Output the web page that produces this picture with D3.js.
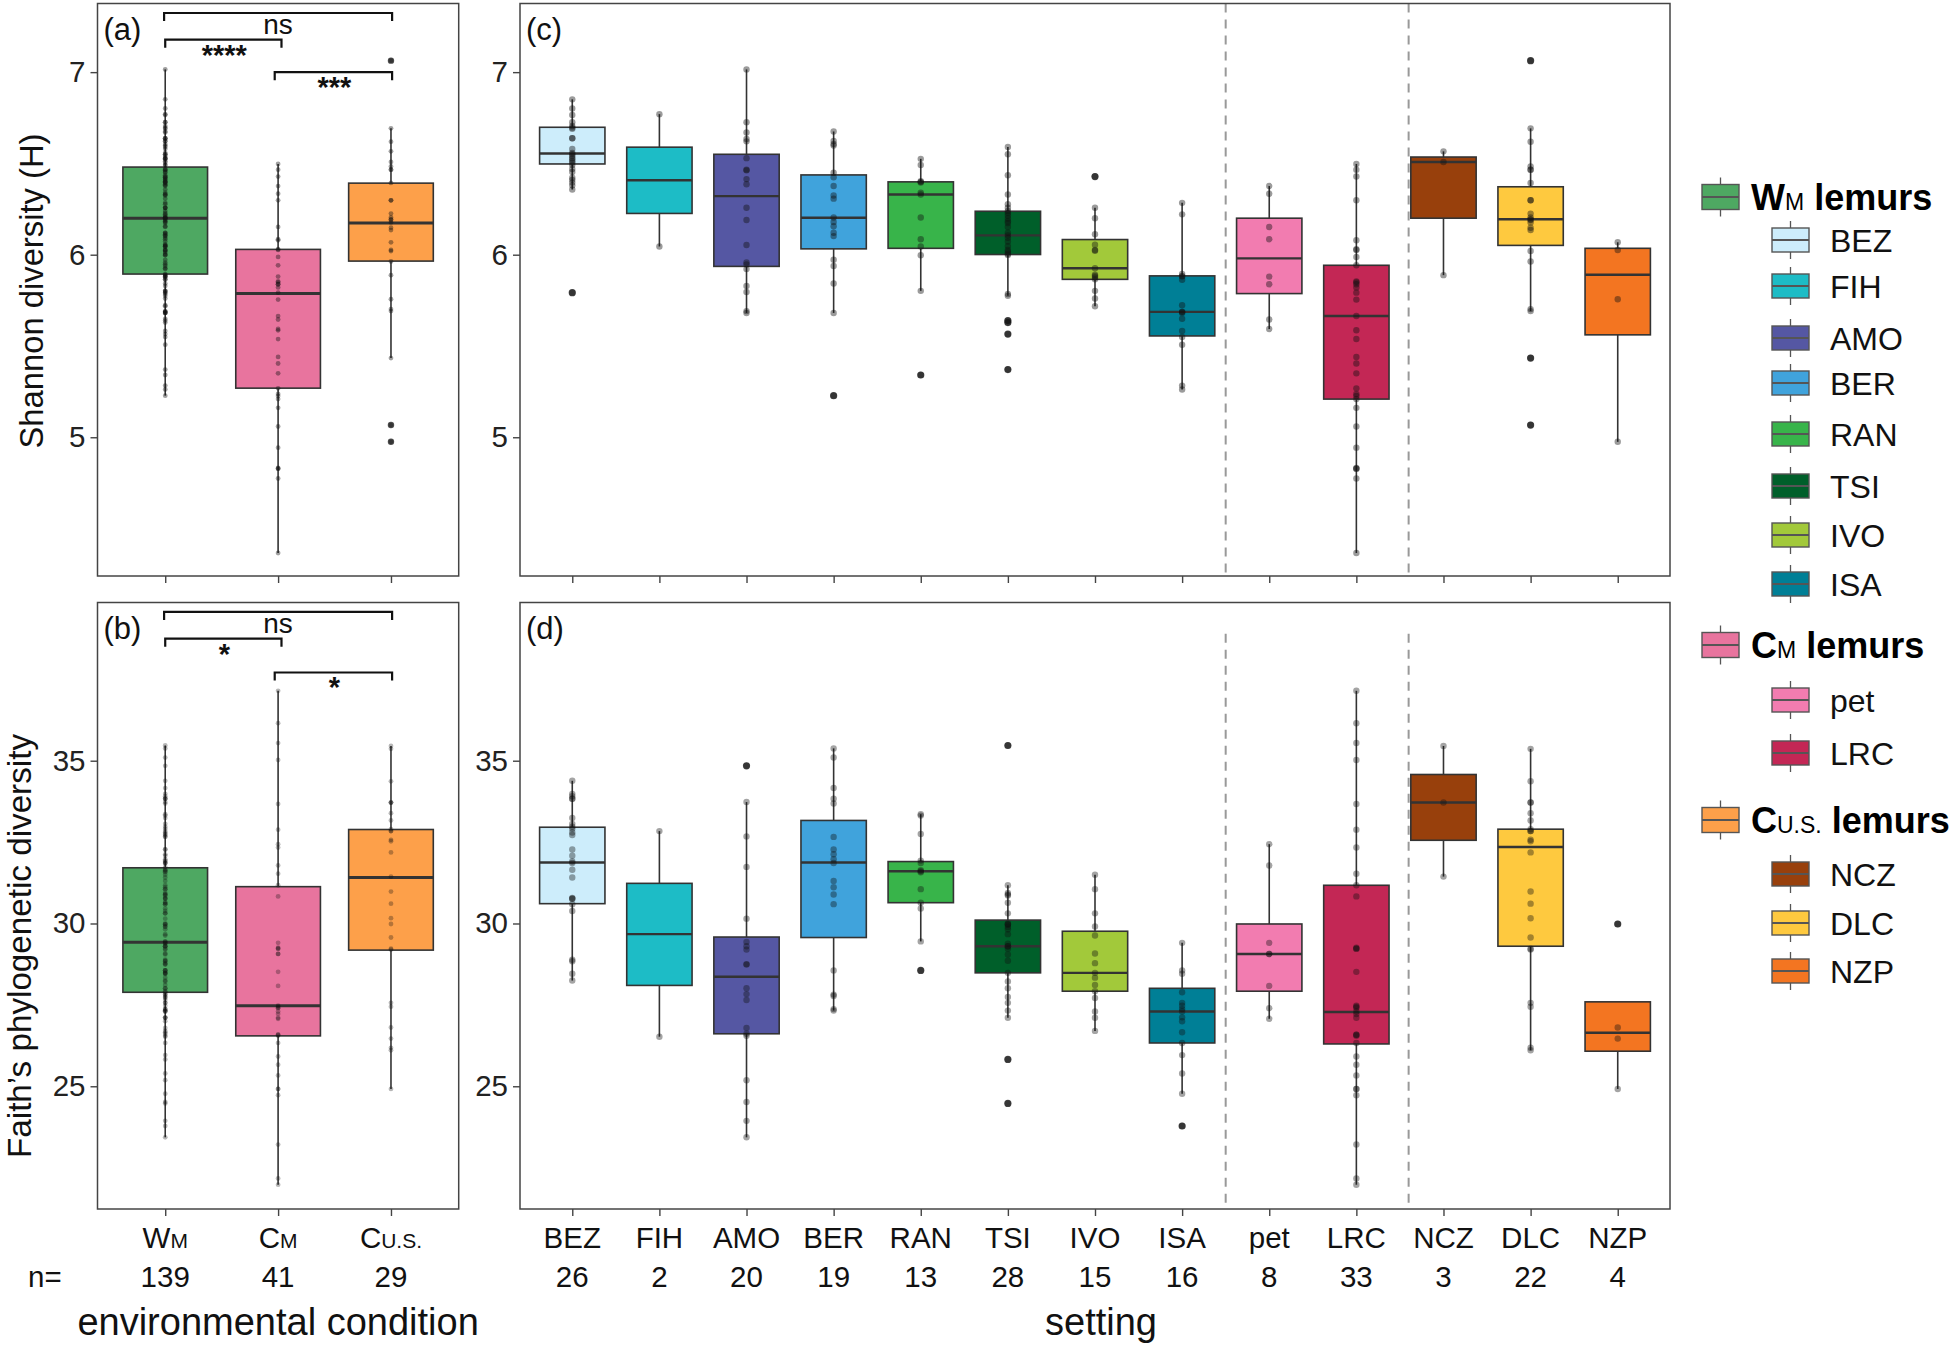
<!DOCTYPE html>
<html><head><meta charset="utf-8">
<script src="https://cdn.jsdelivr.net/npm/d3@7"></script>
<style>body{margin:0;background:#fff}</style></head>
<body><svg id="chart" width="1960" height="1347"></svg>
<script>
// ---------------- DATA ----------------
const conditionMain = ["W", "C", "C"];
const conditionSub = ["M", "M", "U.S."];
const conditionN = [139, 41, 29];
const conditionColors = ["#4ea862", "#e8749e", "#fda04a"];

const settings = ["BEZ","FIH","AMO","BER","RAN","TSI","IVO","ISA","pet","LRC","NCZ","DLC","NZP"];
const settingN = [26,2,20,19,13,28,15,16,8,33,3,22,4];
const settingGroup = [0,0,0,0,0,0,0,0,1,1,2,2,2];
const settingColors = ["#cdedfb","#1dbcc6","#5557a3","#40a3dc","#38b44a","#005f2a","#a2c93a","#007f96","#f27cb0","#c32755","#98400c","#fec93f","#f37521"];

// box statistics (q1, median, q3)
const shannonCondQ1 = [5.894, 5.269, 5.965];
const shannonCondMed = [6.200, 5.787, 6.173];
const shannonCondQ3 = [6.480, 6.029, 6.392];
const faithCondQ1 = [27.887, 26.548, 29.182];
const faithCondMed = [29.420, 27.470, 31.414];
const faithCondQ3 = [31.711, 31.131, 32.887];

const shannonQ1 = [6.497,6.226,5.936,6.032,6.035,6.001,5.865,5.555,5.787,5.209,6.200,6.051,5.561];
const shannonMed = [6.554,6.408,6.321,6.202,6.330,6.106,5.926,5.687,5.980,5.664,6.508,6.194,5.890];
const shannonQ3 = [6.698,6.589,6.550,6.437,6.399,6.238,6.083,5.884,6.200,5.942,6.535,6.372,6.035];
const faithQ1 = [30.609,28.098,26.612,29.569,30.639,28.484,27.920,26.330,27.920,26.300,32.556,29.302,26.077];
const faithMed = [31.872,29.673,28.366,31.872,31.605,29.302,28.484,27.296,29.064,27.281,33.715,32.348,26.642];
const faithQ3 = [32.957,31.233,29.584,33.165,31.902,30.104,29.762,28.009,29.985,31.174,34.577,32.897,27.593];

// per-sample values, one list per setting
const shannonPoints = [
  [6.851,6.801,6.765,6.726,6.705,6.696,6.690,6.638,6.638,6.579,6.558,6.550,6.541,6.530,6.523,6.512,6.504,6.491,6.470,6.453,6.422,6.410,6.395,6.380,6.357,5.792],
  [6.770,6.045],
  [7.015,6.726,6.669,6.634,6.621,6.529,6.466,6.462,6.414,6.386,6.257,6.190,6.053,5.957,5.947,5.921,5.829,5.796,5.691,5.681],
  [6.675,6.623,6.606,6.598,6.449,6.424,6.376,6.324,6.307,6.204,6.179,6.156,6.120,6.102,5.972,5.938,5.842,5.681,5.228],
  [6.525,6.491,6.403,6.399,6.395,6.340,6.330,6.204,6.085,6.045,5.997,5.802,5.341],
  [6.590,6.550,6.435,6.330,6.277,6.257,6.240,6.229,6.215,6.198,6.183,6.173,6.152,6.120,6.106,6.093,6.072,6.047,6.026,6.016,6.005,5.999,5.785,5.775,5.639,5.628,5.565,5.371],
  [6.428,6.257,6.200,6.112,6.055,6.026,6.022,5.926,5.890,5.884,5.875,5.865,5.802,5.760,5.718],
  [6.284,6.221,5.894,5.884,5.880,5.863,5.723,5.687,5.687,5.681,5.649,5.582,5.549,5.507,5.283,5.262],
  [6.376,6.334,6.152,6.085,5.880,5.838,5.645,5.593],
  [6.497,6.466,6.428,6.298,6.079,6.030,6.026,5.988,5.942,5.854,5.848,5.838,5.821,5.792,5.754,5.664,5.586,5.538,5.440,5.404,5.350,5.268,5.237,5.226,5.209,5.161,5.059,4.943,4.832,4.828,4.828,4.774,4.366],
  [6.566,6.508,5.888],
  [7.063,6.692,6.619,6.483,6.466,6.466,6.393,6.298,6.298,6.225,6.204,6.194,6.190,6.177,6.148,6.135,6.020,5.963,5.702,5.691,5.434,5.067],
  [6.068,6.026,5.756,4.975]
];
const faithPoints = [
  [34.383,33.982,33.908,33.834,33.834,33.239,33.061,32.972,32.912,32.793,32.719,32.273,32.080,31.902,31.857,31.649,31.412,30.788,30.758,30.758,30.594,30.386,28.886,28.841,28.455,28.247],
  [32.838,26.523],
  [34.844,33.730,32.675,31.738,30.149,29.435,29.302,29.198,28.752,28.737,28.009,27.831,27.652,26.790,26.612,26.553,25.186,24.517,23.938,23.432],
  [35.379,35.097,34.160,33.834,33.685,32.660,32.273,32.125,31.976,31.857,31.308,31.114,30.892,30.594,28.559,27.816,27.771,27.370,27.325],
  [33.358,33.314,32.749,31.932,31.857,31.634,31.605,31.575,31.055,30.639,30.461,29.450,28.559],
  [35.468,31.174,30.936,30.892,30.862,30.639,30.312,30.000,29.970,29.970,29.896,29.822,29.673,29.376,29.302,29.302,29.227,29.049,28.856,28.484,28.217,28.009,27.741,27.563,27.325,27.103,25.825,24.473],
  [31.501,31.055,30.312,29.911,29.629,29.079,28.782,28.484,28.336,28.113,27.920,27.712,27.296,27.103,26.701],
  [29.406,28.559,28.455,27.890,27.563,27.474,27.370,27.296,27.117,26.999,26.657,26.330,25.958,25.394,24.770,23.780],
  [32.437,31.783,29.406,29.064,29.064,28.083,27.400,27.073],
  [37.147,36.152,35.542,35.022,33.670,32.883,32.333,31.530,31.174,30.832,29.257,29.227,29.227,28.514,27.474,27.444,27.415,27.296,27.221,27.103,26.583,26.583,26.553,26.330,25.914,25.661,25.334,24.918,24.918,24.725,23.210,22.169,21.976],
  [35.453,33.715,31.441],
  [35.364,34.368,33.715,33.715,33.388,33.165,32.897,32.838,32.838,32.571,32.526,32.184,30.981,30.609,30.163,29.569,29.227,29.198,27.563,27.444,26.181,26.107],
  [29.985,26.805,26.464,24.918]
];

const shannonTicks = [5, 6, 7];
const faithTicks = [25, 30, 35];
const shannonDomain = [4.24, 7.376];
const faithDomain = [21.23, 39.86];

// significance comparisons (condition index pairs), labels and bracket heights
const compPairs = [[0, 2], [0, 1], [1, 2]];
const shannonSigLabels = ["ns", "****", "***"];
const shannonSigY = [7.324, 7.178, 7.0];
const faithSigLabels = ["ns", "*", "*"];
const faithSigY = [39.57, 38.75, 37.71];

const dividerPos = [8.5, 10.6];   // between setting groups (1-based category units)
const groupTitles = [["W", "M"], ["C", "M"], ["C", "U.S."]];

// ---------------- LAYOUT ----------------
const FONT = "'Liberation Sans', Arial, Helvetica, sans-serif";
const P = {
  a: {x0: 97.5, x1: 458.7, y0: 3.5, y1: 576},
  b: {x0: 97.5, x1: 458.7, y0: 602.5, y1: 1209},
  c: {x0: 520, x1: 1670, y0: 3.5, y1: 576},
  d: {x0: 520, x1: 1670, y0: 602.5, y1: 1209}
};
const svg = d3.select("#chart").style("font-family", FONT);
svg.append("rect").attr("width", 1960).attr("height", 1347).attr("fill", "#fff");

// condition-level points are the union of their settings
const condShannonPts = [0,1,2].map(g => settingGroup.flatMap((sg, i) => sg === g ? shannonPoints[i] : []));
const condFaithPts = [0,1,2].map(g => settingGroup.flatMap((sg, i) => sg === g ? faithPoints[i] : []));

function tukey(pts, q1, q3) {
  const iqr = q3 - q1, lo = q1 - 1.5 * iqr, hi = q3 + 1.5 * iqr;
  const inside = pts.filter(v => v >= lo && v <= hi);
  return {wlo: Math.min(d3.min(inside), q1), whi: Math.max(d3.max(inside), q3),
          out: pts.filter(v => v < lo || v > hi)};
}

function panel(p, cats, colors, q1, med, q3, pts, domain, ticks, o) {
  const x = d3.scalePoint().domain(cats).range([p.x0, p.x1]).padding(0.6);
  const y = d3.scaleLinear().domain(domain).range([p.y1, p.y0]);
  const step = x.step(), bw = step * 0.75;
  const g = svg.append("g");

  // y axis
  const ya = g.append("g").attr("transform", `translate(${p.x0},0)`)
    .call(d3.axisLeft(y).tickValues(ticks).tickSize(7).tickPadding(5).tickFormat(d3.format("d")));
  ya.select(".domain").remove();
  ya.selectAll("line").attr("stroke", "#444").attr("stroke-width", 1.4);
  ya.selectAll("text").attr("font-size", "29.5px").attr("fill", "#222").attr("font-family", FONT);
  // x axis ticks
  const xa = g.append("g").attr("transform", `translate(0,${p.y1})`)
    .call(d3.axisBottom(x).tickSize(7).tickFormat(""));
  xa.select(".domain").remove();
  xa.selectAll("line").attr("stroke", "#444").attr("stroke-width", 1.4);

  // dividers
  if (o.dividers) {
    o.dividers.forEach(v => {
      const xp = x(cats[0]) + (v - 1) * step;
      g.append("line").attr("x1", xp).attr("x2", xp)
        .attr("y1", o.dividerTop != null ? y(o.dividerTop) : p.y0).attr("y2", p.y1)
        .attr("stroke", "#999").attr("stroke-width", 2).attr("stroke-dasharray", "9,7");
    });
  }

  cats.forEach((c, i) => {
    const cx = x(c);
    const s = tukey(pts[i], q1[i], q3[i]);
    g.append("line").attr("x1", cx).attr("x2", cx).attr("y1", y(q3[i])).attr("y2", y(s.whi))
      .attr("stroke", "#333").attr("stroke-width", 1.6);
    g.append("line").attr("x1", cx).attr("x2", cx).attr("y1", y(q1[i])).attr("y2", y(s.wlo))
      .attr("stroke", "#333").attr("stroke-width", 1.6);
    g.append("rect").attr("x", cx - bw / 2).attr("width", bw)
      .attr("y", y(q3[i])).attr("height", y(q1[i]) - y(q3[i]))
      .attr("fill", colors[i]).attr("stroke", "#333").attr("stroke-width", 1.6);
    g.append("line").attr("x1", cx - bw / 2).attr("x2", cx + bw / 2)
      .attr("y1", y(med[i])).attr("y2", y(med[i]))
      .attr("stroke", "#333").attr("stroke-width", o.medW);
    g.selectAll(null).data(s.out).join("circle")
      .attr("cx", cx).attr("cy", d => y(d)).attr("r", o.outR)
      .attr("fill", "#222").attr("fill-opacity", 0.8);
    g.selectAll(null).data(pts[i]).join("circle")
      .attr("cx", cx).attr("cy", d => y(d)).attr("r", o.ptR)
      .attr("fill", "#111").attr("fill-opacity", o.ptA);
  });

  // border
  g.append("rect").attr("x", p.x0).attr("y", p.y0).attr("width", p.x1 - p.x0).attr("height", p.y1 - p.y0)
    .attr("fill", "none").attr("stroke", "#444").attr("stroke-width", 1.5);

  // panel letter
  g.append("text").attr("x", p.x0 + 6).attr("y", p.y0 + 36).attr("font-size", "31px").attr("fill", "#111")
    .text(o.letter);

  // significance brackets
  if (o.sig) {
    o.sig.labels.forEach((lab, k) => {
      const [a, b] = compPairs[k];
      const off = [[-0.01, 0.01], [0, 0.03], [-0.03, 0.01]][k];
      const xa1 = x(cats[a]) + off[0] * step, xb1 = x(cats[b]) + off[1] * step;
      const yl = y(o.sig.ys[k]);
      g.append("path").attr("d", `M${xa1},${yl + 8}V${yl}H${xb1}V${yl + 8}`)
        .attr("fill", "none").attr("stroke", "#111").attr("stroke-width", 2.2);
      const isStar = lab.indexOf("*") >= 0;
      g.append("text").attr("x", (xa1 + xb1) / 2 + (isStar ? 1 : 0))
        .attr("y", isStar ? yl + 25 : yl + 21)
        .attr("text-anchor", "middle").attr("font-size", isStar ? "29px" : "28px")
        .attr("font-weight", isStar ? "bold" : "normal").attr("fill", "#111").text(lab);
    });
  }
  return {x, y};
}

const A = panel(P.a, ["WM","CM","CUS"], conditionColors, shannonCondQ1, shannonCondMed, shannonCondQ3,
  condShannonPts, shannonDomain, shannonTicks,
  {medW: 3, ptR: 2.4, ptA: 0.4, outR: 3.2, letter: "(a)", sig: {labels: shannonSigLabels, ys: shannonSigY}});
const B = panel(P.b, ["WM","CM","CUS"], conditionColors, faithCondQ1, faithCondMed, faithCondQ3,
  condFaithPts, faithDomain, faithTicks,
  {medW: 3, ptR: 2.4, ptA: 0.3, outR: 3.2, letter: "(b)", sig: {labels: faithSigLabels, ys: faithSigY}});
const C = panel(P.c, settings, settingColors, shannonQ1, shannonMed, shannonQ3,
  shannonPoints, shannonDomain, shannonTicks,
  {medW: 2.4, ptR: 3.2, ptA: 0.42, outR: 3.6, letter: "(c)", dividers: dividerPos});
const D = panel(P.d, settings, settingColors, faithQ1, faithMed, faithQ3,
  faithPoints, faithDomain, faithTicks,
  {medW: 2.4, ptR: 3.2, ptA: 0.38, outR: 3.6, letter: "(d)", dividers: dividerPos, dividerTop: 38.9});

// ---------------- X LABELS ----------------
const row1 = 1248, row2 = 1286.5, titleY = 1335;
["WM","CM","CUS"].forEach((c, i) => {
  const t = svg.append("text").attr("x", B.x(c)).attr("y", row1).attr("text-anchor", "middle")
    .attr("font-size", "29.5px").attr("fill", "#111");
  t.append("tspan").text(conditionMain[i]);
  t.append("tspan").attr("font-size", "21px").text(conditionSub[i]);
  svg.append("text").attr("x", B.x(c)).attr("y", row2).attr("text-anchor", "middle")
    .attr("font-size", "29.5px").attr("fill", "#111").text(conditionN[i]);
});
svg.append("text").attr("x", 28).attr("y", row2).attr("font-size", "29.5px").attr("fill", "#111").text("n=");
settings.forEach((s, i) => {
  svg.append("text").attr("x", D.x(s)).attr("y", row1).attr("text-anchor", "middle")
    .attr("font-size", "29.5px").attr("fill", "#111").text(s);
  svg.append("text").attr("x", D.x(s)).attr("y", row2).attr("text-anchor", "middle")
    .attr("font-size", "29.5px").attr("fill", "#111").text(settingN[i]);
});
svg.append("text").attr("x", (P.b.x0 + P.b.x1) / 2).attr("y", titleY).attr("text-anchor", "middle")
  .attr("font-size", "38px").attr("fill", "#111").text("environmental condition");
svg.append("text").attr("x", (P.d.x0 + P.d.x1) / 2 + 6).attr("y", titleY).attr("text-anchor", "middle")
  .attr("font-size", "38px").attr("fill", "#111").text("setting");

// ---------------- Y TITLES ----------------
svg.append("text").attr("transform", "translate(43,291) rotate(-90)").attr("text-anchor", "middle")
  .attr("font-size", "34px").attr("fill", "#111")
  .attr("textLength", 315).attr("lengthAdjust", "spacingAndGlyphs").text("Shannon diversity (H)");
svg.append("text").attr("transform", "translate(31,946) rotate(-90)").attr("text-anchor", "middle")
  .attr("font-size", "33px").attr("fill", "#111")
  .attr("textLength", 424).attr("lengthAdjust", "spacingAndGlyphs").text("Faith\u2019s phylogenetic diversity");

// ---------------- LEGEND ----------------
const legendHeaderY = [197, 645, 820];
const legendItemY = [240, 286, 338, 383, 434, 486, 535, 584, 700, 753, 874, 923, 971];
function legendKey(x, cy, w, h, color) {
  const g = svg.append("g");
  g.append("line").attr("x1", x + w / 2).attr("x2", x + w / 2).attr("y1", cy - h / 2 - 7).attr("y2", cy + h / 2 + 7)
    .attr("stroke", "#555").attr("stroke-width", 1.3);
  g.append("rect").attr("x", x).attr("y", cy - h / 2).attr("width", w).attr("height", h)
    .attr("fill", color).attr("stroke", "#555").attr("stroke-width", 1.4);
  g.append("line").attr("x1", x).attr("x2", x + w).attr("y1", cy).attr("y2", cy)
    .attr("stroke", "#555").attr("stroke-width", 1.8);
}
groupTitles.forEach((gt, gi) => {
  const cy = legendHeaderY[gi];
  legendKey(1702, cy, 37, 25, conditionColors[gi]);
  const t = svg.append("text").attr("x", 1751).attr("y", cy + 13).attr("font-size", "36px")
    .attr("font-weight", "bold").attr("fill", "#000");
  t.append("tspan").text(gt[0]);
  t.append("tspan").attr("font-size", "23px").attr("font-weight", "normal").text(gt[1]);
  t.append("tspan").text(" lemurs");
});
settings.forEach((s, i) => {
  const cy = legendItemY[i];
  legendKey(1772, cy, 37, 24, settingColors[i]);
  svg.append("text").attr("x", 1830).attr("y", cy + 11.5).attr("font-size", "32px").attr("fill", "#111").text(s);
});
</script>
</body></html>
